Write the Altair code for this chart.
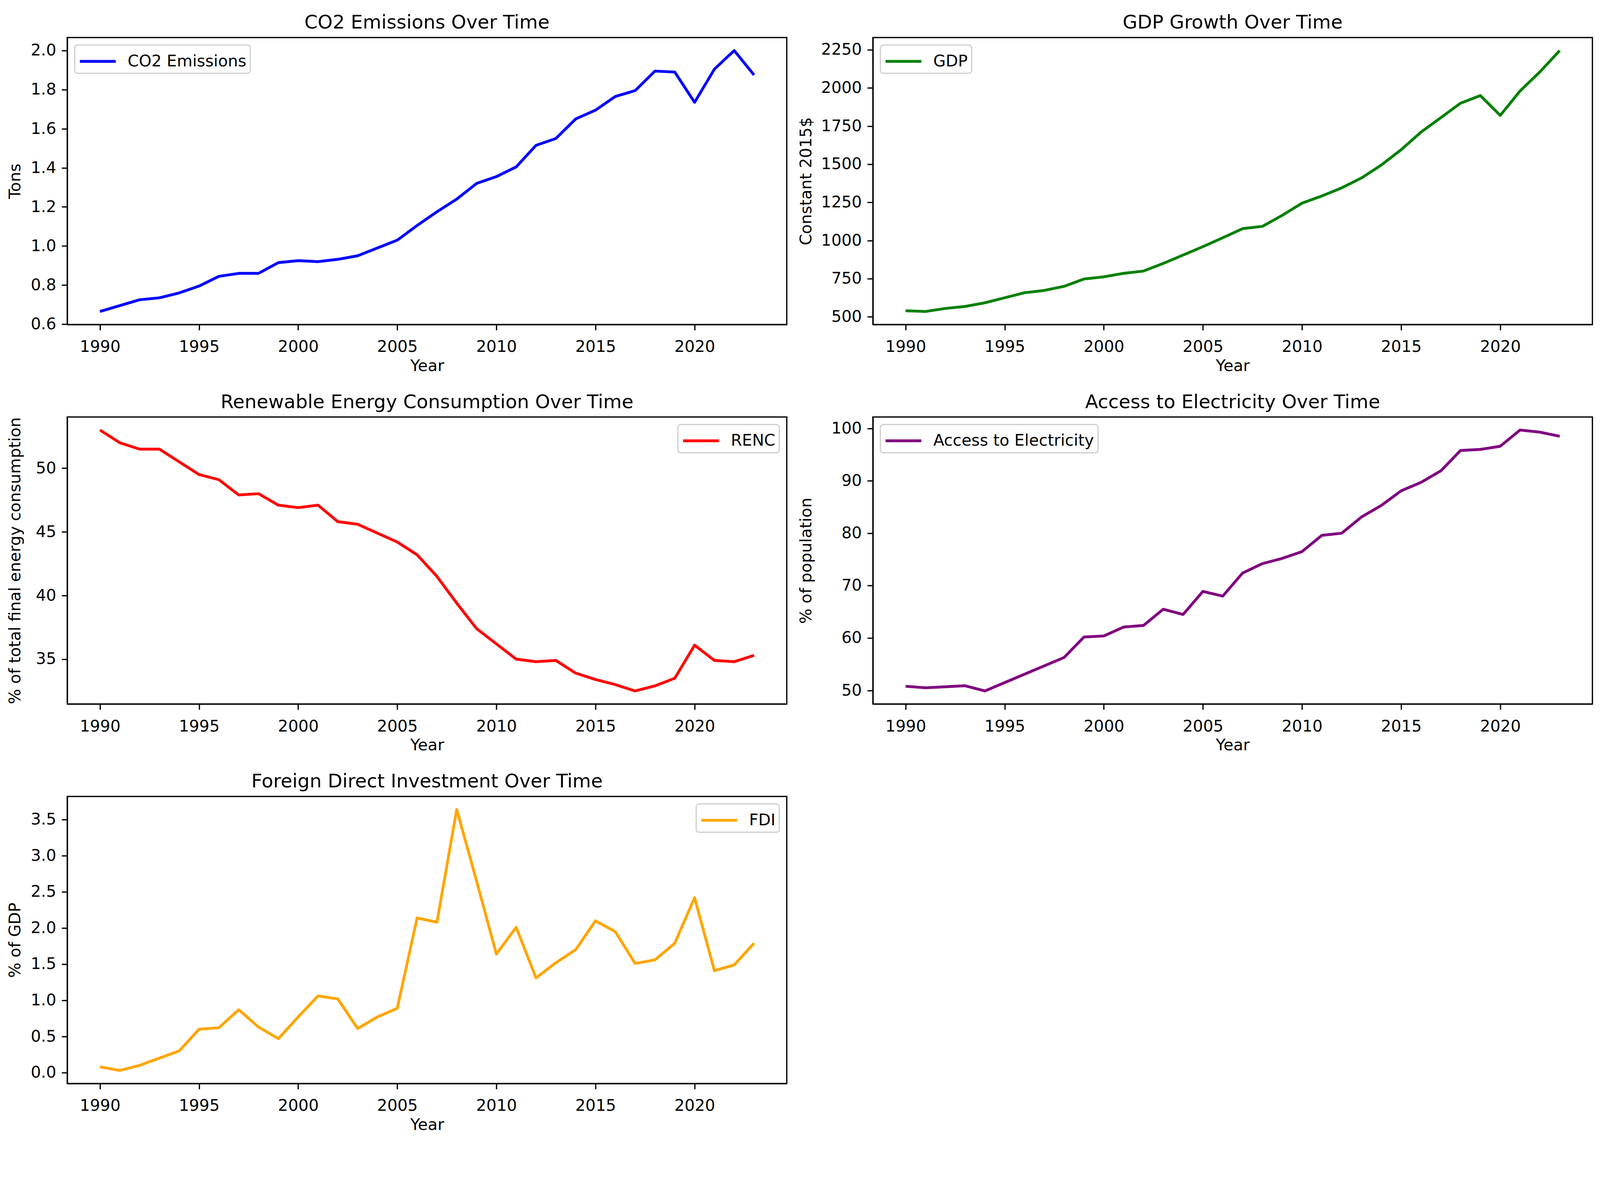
import altair as alt
import pandas as pd

years = list(range(1990, 2024))

co2 = [0.665, 0.695, 0.725, 0.735, 0.76, 0.795, 0.845, 0.86, 0.86, 0.915,
       0.925, 0.92, 0.932, 0.95, 0.99, 1.03, 1.105, 1.175, 1.24, 1.32,
       1.355, 1.405, 1.515, 1.55, 1.65, 1.695, 1.765, 1.795, 1.895, 1.89,
       1.735, 1.905, 2.0, 1.875]

gdp = [540, 535, 555, 568, 592, 625, 658, 673, 700, 748,
       762, 785, 800, 850, 905, 960, 1018, 1078, 1093, 1165,
       1245, 1292, 1345, 1410, 1495, 1595, 1710, 1805, 1900, 1950,
       1820, 1980, 2105, 2245]

renc = [53.0, 52.0, 51.5, 51.5, 50.5, 49.5, 49.1, 47.9, 48.0, 47.1,
        46.9, 47.1, 45.8, 45.6, 44.9, 44.2, 43.2, 41.5, 39.4, 37.4,
        36.2, 35.0, 34.8, 34.9, 33.9, 33.4, 33.0, 32.5, 32.9, 33.5,
        36.1, 34.9, 34.8, 35.3]

access = [50.8, 50.5, 50.7, 50.9, 49.9, 51.5, 53.1, 54.7, 56.3, 60.2,
          60.4, 62.1, 62.4, 65.5, 64.5, 68.9, 68.0, 72.4, 74.2, 75.2,
          76.5, 79.6, 80.0, 83.1, 85.3, 88.1, 89.7, 91.9, 95.8, 96.0,
          96.6, 99.7, 99.3, 98.5]

fdi = [0.08, 0.03, 0.10, 0.20, 0.30, 0.60, 0.62, 0.87, 0.63, 0.47,
       0.77, 1.06, 1.02, 0.61, 0.77, 0.89, 2.14, 2.08, 3.64, 2.65,
       1.64, 2.01, 1.31, 1.52, 1.70, 2.10, 1.95, 1.51, 1.56, 1.79,
       2.42, 1.41, 1.49, 1.79]

year_ticks = [1990, 1995, 2000, 2005, 2010, 2015, 2020]
co2_ticks = [0.6, 0.8, 1.0, 1.2, 1.4, 1.6, 1.8, 2.0]
gdp_ticks = [500, 750, 1000, 1250, 1500, 1750, 2000, 2250]
renc_ticks = [35, 40, 45, 50]
access_ticks = [50, 60, 70, 80, 90, 100]
fdi_ticks = [0.0, 0.5, 1.0, 1.5, 2.0, 2.5, 3.0, 3.5]

FONT = "DejaVu Sans"
PW, PH = 1930, 770
LW = 7.5


def panel(values, name, color, title, ytitle, yticks, yfmt, orient, ext):
    df = pd.DataFrame({"Year": years, "value": values, "series": [name] * len(years)})
    lo, hi = min(values), max(values)
    m = 0.05 * (hi - lo)
    xm = 0.05 * (years[-1] - years[0])
    return alt.Chart(df).mark_line(strokeWidth=LW, strokeJoin="round").encode(
        x=alt.X("Year:Q",
                scale=alt.Scale(domain=[years[0] - xm, years[-1] + xm], nice=False, zero=False),
                axis=alt.Axis(values=year_ticks, format="d", title="Year")),
        y=alt.Y("value:Q",
                scale=alt.Scale(domain=[lo - m, hi + m], nice=False, zero=False),
                axis=alt.Axis(values=yticks, format=yfmt, title=ytitle,
                              minExtent=ext, maxExtent=ext)),
        color=alt.Color("series:N",
                        scale=alt.Scale(domain=[name], range=[color]),
                        legend=alt.Legend(title=None, orient=orient, offset=20, padding=10,
                                          fillColor="white", strokeColor="#cccccc",
                                          cornerRadius=8, symbolType="M-1,0L2.2,0",
                                          symbolSize=3600, symbolStrokeWidth=LW,
                                          labelFontSize=43, labelFont=FONT,
                                          labelColor="black", labelOffset=64,
                                          labelLimit=2000)),
    ).properties(
        width=PW, height=PH,
        title=alt.TitleParams(text=title, fontSize=51, font=FONT, fontWeight="normal",
                              color="black", offset=13, frame="group", anchor="middle"),
    )


c1 = panel(co2, "CO2 Emissions", "#0000ff", "CO2 Emissions Over Time", "Tons",
           co2_ticks, ".1f", "top-left", 100)
c2 = panel(gdp, "GDP", "#008000", "GDP Growth Over Time", "Constant 2015$",
           gdp_ticks, "d", "top-left", 140)
c3 = panel(renc, "RENC", "#ff0000", "Renewable Energy Consumption Over Time",
           "% of total final energy consumption", renc_ticks, "d", "top-right", 100)
c4 = panel(access, "Access to Electricity", "#800080", "Access to Electricity Over Time",
           "% of population", access_ticks, "d", "top-left", 140)
c5 = panel(fdi, "FDI", "#ffa500", "Foreign Direct Investment Over Time", "% of GDP",
           fdi_ticks, ".1f", "top-right", 100)

row1 = alt.hconcat(c1, c2, spacing=27).resolve_scale(
    x="independent", y="independent", color="independent").resolve_legend(color="independent")
row2 = alt.hconcat(c3, c4, spacing=27).resolve_scale(
    x="independent", y="independent", color="independent").resolve_legend(color="independent")

chart = alt.vconcat(row1, row2, c5, spacing=46).resolve_scale(
    x="independent", y="independent", color="independent"
).resolve_legend(color="independent").properties(
    padding={"left": 10, "top": -44, "right": 10, "bottom": -66},
    background="white",
).configure_view(
    stroke="black", strokeWidth=3.4
).configure_axis(
    grid=False, labelFont=FONT, titleFont=FONT, labelFontSize=43, titleFontSize=43,
    titleFontWeight="normal", labelColor="black", titleColor="black",
    tickColor="black", tickSize=15, tickWidth=3.4, labelPadding=15, titlePadding=17,
    domainColor="black", domainWidth=3.4,
).configure_axisX(
    labelPadding=24, titlePadding=8,
).configure_legend(strokeWidth=3)

chart.save("out.html", embed_options={"renderer": "svg", "actions": False})
